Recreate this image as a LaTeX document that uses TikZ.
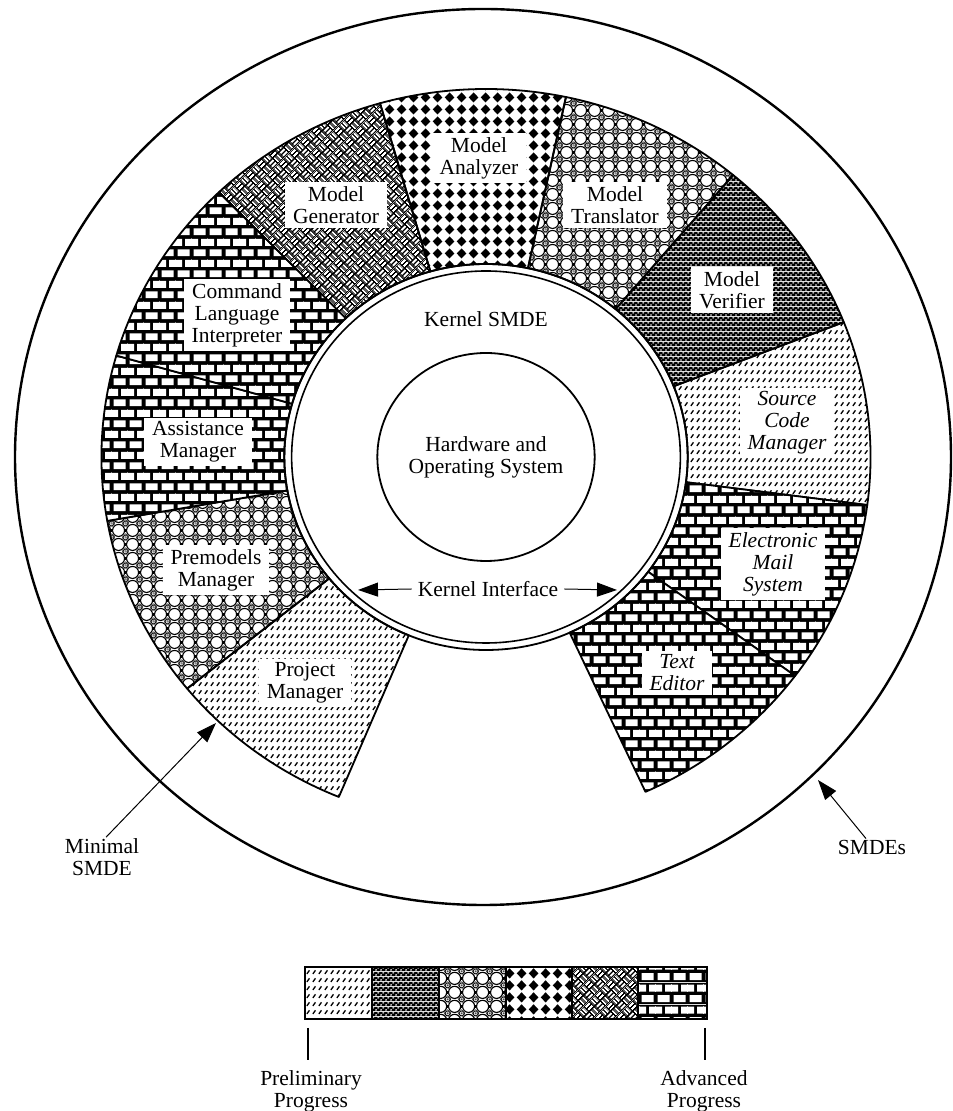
\documentclass[tikz,border=0pt]{standalone}
\usepackage{fontspec}
\setmainfont{Liberation Serif}
\usetikzlibrary{patterns.meta,arrows.meta}

% 1: dashed diagonal strokes (preliminary)
\tikzdeclarepattern{
  name=pdash, type=colored,
  bounding box={(0pt,0pt) and (6pt,8pt)},
  tile size={(6pt,8pt)},
  code={
    \draw[black, line width=1.5pt] (1pt,1.2pt) -- (4pt,5.2pt);
  }
}
% 2: fine dark dots
\tikzdeclarepattern{
  name=pdots, type=colored,
  bounding box={(0pt,0pt) and (5pt,5pt)},
  tile size={(5pt,5pt)},
  code={
    \fill[black] (0pt,0pt) rectangle (5pt,5pt);
    \fill[white] (1.25pt,1.25pt) circle (1.05pt);
    \fill[white] (3.75pt,3.75pt) circle (1.05pt);
  }
}
% 3: circles with small diamonds
\tikzdeclarepattern{
  name=pcirc, type=colored,
  bounding box={(0pt,0pt) and (14pt,14pt)},
  tile size={(14pt,14pt)},
  code={
    \draw[black, line width=1.2pt] (7pt,7pt) circle (6.4pt);
    \foreach \cx/\cy in {0/0,14/0,0/14,14/14}{
      \filldraw[fill=white, draw=black, line width=1pt]
        (\cx pt-2.6pt,\cy pt) -- (\cx pt,\cy pt+2.6pt) -- (\cx pt+2.6pt,\cy pt) -- (\cx pt,\cy pt-2.6pt) -- cycle;
      \fill[black] (\cx pt,\cy pt) circle (0.7pt);
    }
  }
}
% 4: black diamonds
\tikzdeclarepattern{
  name=pdiam, type=colored,
  bounding box={(0pt,0pt) and (12pt,12pt)},
  tile size={(12pt,12pt)},
  code={
    \fill[black] (0.8pt,6pt) -- (6pt,11.4pt) -- (11.2pt,6pt) -- (6pt,0.6pt) -- cycle;
  }
}
% 5: basket weave
\tikzdeclarepattern{
  name=pweave, type=colored,
  bounding box={(0pt,0pt) and (16pt,16pt)},
  tile size={(16pt,16pt)},
  tile transformation={rotate=45},
  code={
    \fill[black] (0pt,0pt) rectangle (16pt,16pt);
    \fill[white] (0.8pt,1.0pt) rectangle (7.2pt,3.2pt);
    \fill[white] (0.8pt,4.8pt) rectangle (7.2pt,7.0pt);
    \fill[white] (8.8pt,9.0pt) rectangle (15.2pt,11.2pt);
    \fill[white] (8.8pt,12.8pt) rectangle (15.2pt,15.0pt);
    \fill[white] (9.0pt,0.8pt) rectangle (11.2pt,7.2pt);
    \fill[white] (12.8pt,0.8pt) rectangle (15.0pt,7.2pt);
    \fill[white] (1.0pt,8.8pt) rectangle (3.2pt,15.2pt);
    \fill[white] (4.8pt,8.8pt) rectangle (7.0pt,15.2pt);
  }
}
% 6: bricks (advanced)
\tikzdeclarepattern{
  name=pbricks, type=colored,
  bounding box={(0pt,0pt) and (16pt,21.4pt)},
  tile size={(16pt,21.4pt)},
  code={
    \fill[black] (0pt,0pt) rectangle (16pt,21.4pt);
    \fill[white] (1.6pt,1.8pt) rectangle (14.4pt,8.9pt);
    \fill[white] (-6.4pt,12.5pt) rectangle (6.4pt,19.6pt);
    \fill[white] (9.6pt,12.5pt) rectangle (22.4pt,19.6pt);
  }
}

\newcommand{\segm}[3]{%
  \draw[segline, pattern=#3] (#1:193) arc[start angle=#1, end angle=#2, radius=193]
    -- (#2:368) arc[start angle=#2, end angle=#1, radius=368] -- cycle;}

\begin{document}
\begin{tikzpicture}[x=1pt,y=1pt,
  segline/.style={line width=1.8pt, line join=round},
  lbl/.style={fill=white, align=center, inner xsep=8pt, inner ysep=4pt,
    font=\fontsize{21.5}{22}\selectfont},
  plain/.style={align=center, inner sep=1pt, font=\fontsize{21.5}{22}\selectfont},
  bigarrow/.style={line width=1pt, -{Triangle[length=20pt,width=14pt]}},
  legcell/.style={line width=1.8pt}]
\useasboundingbox (0,0) rectangle (953,1111);

% outer SMDEs circle
\draw[line width=2.4pt] (483,654) ellipse [x radius=468, y radius=448];

\begin{scope}[shift={(486,654)}, xscale=1.045]
  \segm{219}{247.5}{pdash}
  \segm{190}{219}{pcirc}
  \segm{164}{190}{pbricks}
  \segm{134}{164}{pbricks}
  \segm{106}{134}{pweave}
  \segm{78}{106}{pdiam}
  \segm{50}{78}{pcirc}
  \segm{21.5}{50}{pdots}
  \segm{-7.5}{21.5}{pdash}
  \segm{-36.5}{-7.5}{pbricks}
  \segm{-65.5}{-36.5}{pbricks}
  \draw[line width=1.8pt] (0,0) circle (193);
  \draw[line width=1.6pt] (0,0) circle (186);
  \draw[line width=1.8pt] (0,0) circle (104);
\end{scope}

% labels in the segments
\node[lbl] (cli) at (237,796) {Command\\Language\\Interpreter};
\node[lbl] (gen) at (336,906) {Model\\Generator};
\node[lbl] (ana) at (479,953) {Model\\Analyzer};
\node[lbl] (tra) at (615,906) {Model\\Translator};
\node[lbl] (ver) at (732,821) {Model\\Verifier};
\node[lbl, font=\fontsize{21.5}{22}\selectfont\itshape] (scm) at (787,688) {Source\\Code\\Manager};
\node[lbl, font=\fontsize{21.5}{22}\selectfont\itshape] (ems) at (773,547) {Electronic\\Mail\\System};
\node[lbl, font=\fontsize{21.5}{22}\selectfont\itshape] (ted) at (677,438) {Text\\Editor};
\node[lbl] (pm) at (305,428) {Project\\Manager};
\node[lbl] (pre) at (216,541) {Premodels\\Manager};
\node[lbl] (asm) at (198,669) {Assistance\\Manager};

% kernel texts
\node[plain] (ker) at (486,792) {Kernel SMDE};
\node[plain] (hw) at (486,654) {Hardware and\\Operating System};
\node[plain, inner xsep=6pt] (ki) at (488,522) {Kernel Interface};
\coordinate (kil) at (358,521);
\coordinate (kir) at (617,521);
\draw[bigarrow] (ki.west) -- (kil);
\draw[bigarrow] (ki.east) -- (kir);

% Minimal SMDE / SMDEs
\node[plain] (min) at (102,254) {Minimal\\SMDE};
\coordinate (mintip) at (216,388);
\draw[bigarrow] ([xshift=4pt]min.north) -- (mintip);
\node[plain] (smd) at (872,264) {SMDEs};
\coordinate (smdtip) at (818,331);
\draw[bigarrow] ([xshift=-6pt]smd.north) -- (smdtip);

% legend bar
\draw[legcell, pattern=pdash]   (305,92) rectangle (372,144);
\draw[legcell, pattern=pdots]   (372,92) rectangle (439,144);
\draw[legcell, pattern=pcirc]   (439,92) rectangle (506,144);
\draw[legcell, pattern=pdiam]   (506,92) rectangle (572,144);
\draw[legcell, pattern=pweave]  (572,92) rectangle (638,144);
\draw[legcell, pattern=pbricks] (638,92) rectangle (707,144);
\coordinate (t1a) at (308,83);
\coordinate (t1b) at (308,51);
\coordinate (t2a) at (705,83);
\coordinate (t2b) at (705,51);
\draw[line width=1.2pt] (t1a) -- (t1b);
\draw[line width=1.2pt] (t2a) -- (t2b);
\node[plain] (prel) at (311,20) {Preliminary\\Progress};
\node[plain] (adv) at (704,20) {Advanced\\Progress};
\end{tikzpicture}
\end{document}
